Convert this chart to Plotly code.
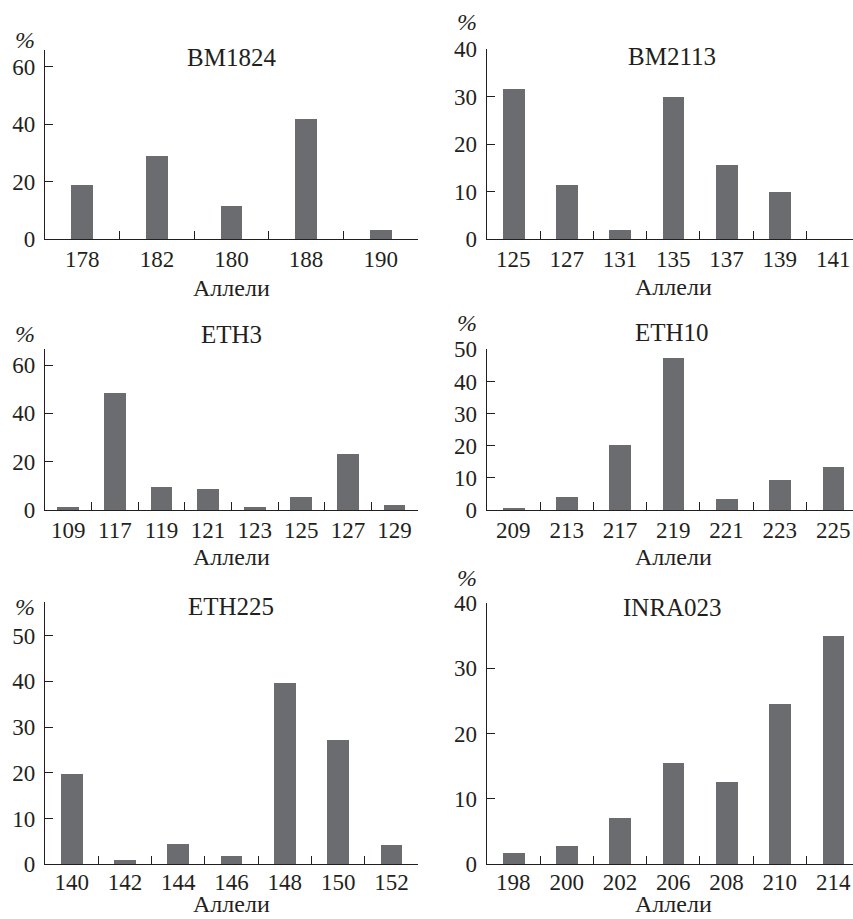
import plotly.graph_objects as go

# ---------------- data ----------------
bm1824_alleles = ["178", "182", "180", "188", "190"]
bm1824_freq = [19.0, 29.0, 11.6, 41.8, 3.2]

bm2113_alleles = ["125", "127", "131", "135", "137", "139", "141"]
bm2113_freq = [31.6, 11.4, 2.0, 30.0, 15.6, 9.9, 0.0]

eth3_alleles = ["109", "117", "119", "121", "123", "125", "127", "129"]
eth3_freq = [1.2, 48.4, 9.5, 8.7, 1.2, 5.4, 23.2, 2.1]

eth10_alleles = ["209", "213", "217", "219", "221", "223", "225"]
eth10_freq = [0.5, 4.0, 20.2, 47.3, 3.4, 9.3, 13.4]

eth225_alleles = ["140", "142", "144", "146", "148", "150", "152"]
eth225_freq = [19.7, 0.9, 4.6, 1.8, 39.6, 27.2, 4.2]

inra023_alleles = ["198", "200", "202", "206", "208", "210", "214"]
inra023_freq = [1.7, 2.9, 7.2, 15.5, 12.7, 24.6, 34.9]

marker_names = ["BM1824", "BM2113", "ETH3", "ETH10", "ETH225", "INRA023"]
y_ticks = [[0, 20, 40, 60], [0, 10, 20, 30, 40], [0, 20, 40, 60],
           [0, 10, 20, 30, 40, 50], [0, 10, 20, 30, 40, 50], [0, 10, 20, 30, 40]]
x_title = "Аллели"
y_unit = "%"

# ---------------- layout geometry (pixels) ----------------
W, H = 853, 919
BAR_PX = 21.7
INK = "#231f20"
BAR = "#6b6c70"
FONT = "Liberation Serif"
TICK_SIZE = 23


def px(x):
    return x / W


def py(y):
    return 1 - y / H


panels = [
    dict(cats=bm1824_alleles, vals=bm1824_freq, x0=45, cat=74.6, yz=239.3, yt=50, ymax=65.8,
         title=(231, 57), pct=(25, 40), xlab=(231.5, 288, "middle"), xstand=-1),
    dict(cats=bm2113_alleles, vals=bm2113_freq, x0=486.7, cat=53.3, yz=239.3, yt=49.3, ymax=40,
         title=(672, 56.5), pct=(466.7, 22.5), xlab=(673, 287, "middle"), xstand=-1),
    dict(cats=eth3_alleles, vals=eth3_freq, x0=45, cat=46.6, yz=510, yt=349.3, ymax=66.5,
         title=(231, 334), pct=(25, 334), xlab=(231.5, 557, "middle"), xstand=-1),
    dict(cats=eth10_alleles, vals=eth10_freq, x0=486.7, cat=53.3, yz=510, yt=349.3, ymax=50,
         title=(672, 332.5), pct=(466.7, 322.5), xlab=(673, 556.5, "middle"), xstand=-1),
    dict(cats=eth225_alleles, vals=eth225_freq, x0=45, cat=53.3, yz=864.3, yt=601.7, ymax=57.4,
         title=(231, 606), pct=(25, 607), xlab=(231.5, 919, "bottom"), xstand=-3),
    dict(cats=inra023_alleles, vals=inra023_freq, x0=486.7, cat=53.3, yz=864.3, yt=602.7, ymax=40,
         title=(672, 607), pct=(466.7, 577.5), xlab=(673, 919, "bottom"), xstand=-3),
]

fig = go.Figure()
annotations = []
layout = {}
for i, p in enumerate(panels):
    n = i + 1
    sfx = "" if n == 1 else str(n)
    ncat = len(p["cats"])
    full_right = p["x0"] + ncat * p["cat"]
    x1 = min(full_right, W)
    xmax = -0.5 + (x1 - p["x0"]) / p["cat"]

    fig.add_trace(go.Bar(
        x=p["cats"], y=p["vals"], xaxis="x" + sfx, yaxis="y" + sfx,
        marker=dict(color=BAR, line=dict(width=0)),
        width=BAR_PX / p["cat"], showlegend=False,
    ))

    layout["xaxis" + sfx] = dict(
        domain=[px(p["x0"]), px(x1)], anchor="y" + sfx, type="category",
        categoryorder="array", categoryarray=p["cats"],
        range=[-0.5, xmax], showgrid=False, zeroline=False, automargin=False,
        showline=True, linecolor=INK, linewidth=1.3,
        ticks="inside", tickson="boundaries", ticklen=8, tickwidth=1.2, tickcolor=INK,
        tickfont=dict(family=FONT, size=TICK_SIZE, color=INK), fixedrange=True,
        ticklabelstandoff=p["xstand"],
    )
    layout["yaxis" + sfx] = dict(
        domain=[py(p["yz"]), py(p["yt"])], anchor="x" + sfx,
        range=[0, p["ymax"]], tickvals=y_ticks[i], showgrid=False, zeroline=False,
        automargin=False,
        showline=True, linecolor=INK, linewidth=1.3,
        ticks="inside", ticklen=8, tickwidth=1.2, tickcolor=INK,
        tickfont=dict(family=FONT, size=TICK_SIZE, color=INK), fixedrange=True,
        ticklabelstandoff=4,
    )

    annotations.append(dict(text=marker_names[i], x=px(p["title"][0]), y=py(p["title"][1]),
                            xref="paper", yref="paper", showarrow=False,
                            xanchor="center", yanchor="middle",
                            font=dict(family=FONT, size=25, color=INK)))
    annotations.append(dict(text="<i>" + y_unit + "</i>", x=px(p["pct"][0]), y=py(p["pct"][1]),
                            xref="paper", yref="paper", showarrow=False,
                            xanchor="center", yanchor="middle",
                            font=dict(family=FONT, size=24, color=INK)))
    annotations.append(dict(text=x_title, x=px(p["xlab"][0]), y=py(p["xlab"][1]),
                            xref="paper", yref="paper", showarrow=False,
                            xanchor="center", yanchor=p["xlab"][2],
                            font=dict(family=FONT, size=24, color=INK)))

fig.update_layout(
    template="none",
    width=W, height=H, margin=dict(l=0, r=0, t=0, b=0, pad=0),
    paper_bgcolor="white", plot_bgcolor="white",
    font=dict(family=FONT, color=INK),
    showlegend=False,
    annotations=annotations, bargap=0, **layout,
)

fig.write_html("out.html", config={"displayModeBar": False})
